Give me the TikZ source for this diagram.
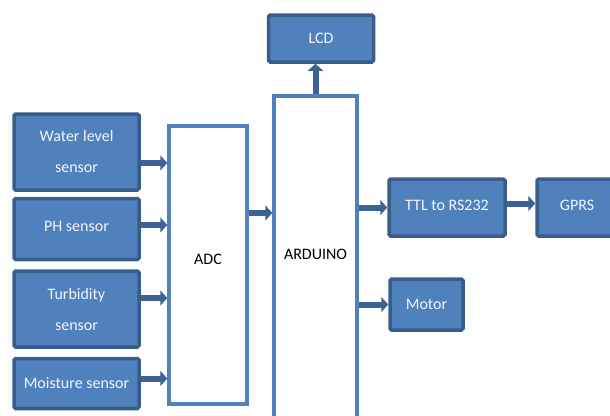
\documentclass[tikz,border=0pt]{standalone}
\usepackage{fontspec}
\setmainfont{Carlito}
\usetikzlibrary{arrows.meta,calc}
\definecolor{boxfill}{HTML}{4F81BD}
\definecolor{boxline}{HTML}{385D8A}
\definecolor{arrcol}{HTML}{3B6396}
\definecolor{txtcol}{HTML}{F2F5FB}
\tikzset{
  blk/.style={draw=boxline, line width=3.5pt, fill=boxfill, rounded corners=1.5pt,
    inner sep=0pt, text=txtcol, align=center, font=\fontsize{16}{31}\selectfont},
  wbox/.style={draw=boxfill, line width=3.4pt, fill=white, inner sep=0pt,
    text=black, font=\fontsize{16}{20}\selectfont},
  arr/.style={draw=arrcol, line width=6pt, -{Triangle[width=15pt,length=7pt]}}
}
\begin{document}
\begin{tikzpicture}[x=1pt,y=-1pt]
\useasboundingbox (0,0) rectangle (610,415);
\clip (0,0) rectangle (610,415);
\node[blk, minimum width=125, minimum height=76] (water) at (76.5,152) {Water level\\sensor};
\node[blk, minimum width=125, minimum height=61] (ph) at (76.5,229) {\raisebox{6pt}{PH sensor}};
\node[blk, minimum width=125, minimum height=76] (turb) at (76.5,309) {Turbidity\\sensor};
\node[blk, minimum width=125, minimum height=50] (moist) at (76.5,383.5) {Moisture sensor};
\node[wbox, minimum width=78, minimum height=278] (adc) at (208,265) {\raisebox{12pt}{ADC}};
\node[wbox, minimum width=83, minimum height=334] (ard) at (315.5,263) {\raisebox{18pt}{ARDUINO}};
\node[blk, minimum width=105, minimum height=47] (lcd) at (321,38.5) {LCD};
\node[blk, minimum width=116, minimum height=57] (ttl) at (447,207.5) {\raisebox{4pt}{TTL to RS232}};
\node[blk, minimum width=80, minimum height=57] (gprs) at (577,207.5) {\raisebox{4pt}{GPRS}};
\node[blk, minimum width=73, minimum height=51] (motor) at (426.5,304.5) {Motor};
% arrow start points
\coordinate (a1) at ($(water.east)+(0,11)$);
\coordinate (a2) at ($(ph.east)+(0,-4)$);
\coordinate (a3) at ($(turb.east)+(0,-11)$);
\coordinate (a4) at ($(moist.east)+(0,-5)$);
\coordinate (a5) at ($(adc.east)+(0,-52)$);
\coordinate (a6) at ($(ttl.east)+(0,-4)$);
% arrows
\draw[arr] (a1) -- (a1 -| adc.west);
\draw[arr] (a2) -- (a2 -| adc.west);
\draw[arr] (a3) -- (a3 -| adc.west);
\draw[arr] (a4) -- (a4 -| adc.west);
\draw[arr] (a5) -- (a5 -| ard.west);
\draw[arr] (ard.north) -- (ard.north |- lcd.south);
\draw[arr] (ard.east |- ttl.west) -- (ttl.west);
\draw[arr] (ard.east |- motor.west) -- (motor.west);
\draw[arr] (a6) -- (a6 -| gprs.west);
\end{tikzpicture}
\end{document}
